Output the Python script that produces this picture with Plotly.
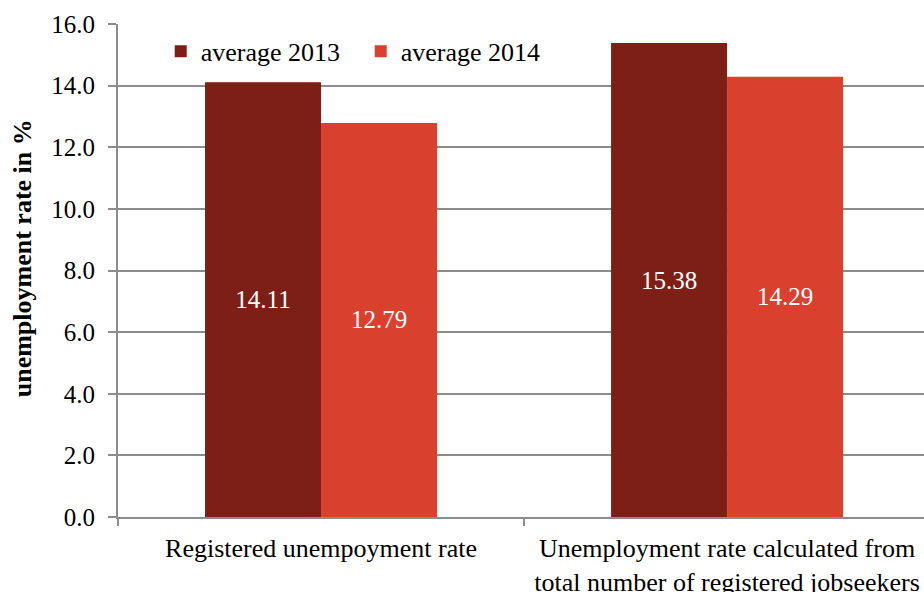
import plotly.graph_objects as go

categories = ["Registered unempoyment rate",
              "Unemployment rate calculated from<br>total number of registered jobseekers"]
series_names = ["average 2013", "average 2014"]
values_2013 = [14.11, 15.38]
values_2014 = [12.79, 14.29]
y_ticks = [0, 2, 4, 6, 8, 10, 12, 14, 16]
y_title = "unemployment rate in %"

colors = ["#7E1F17", "#D9402D"]
xpos = list(range(len(categories)))
font_family = "Times New Roman, Liberation Serif, serif"

fig = go.Figure()
for name, vals, col in zip(series_names, [values_2013, values_2014], colors):
    fig.add_trace(go.Bar(
        x=xpos, y=vals, name=name,
        marker=dict(color=col, line=dict(width=0)),
        text=[f"{v:.2f}" for v in vals],
        textposition="inside", insidetextanchor="middle",
        textfont=dict(color="white", size=25, family=font_family),
        textangle=0,
    ))

# invisible trace on secondary x axis for category boundary ticks
fig.add_trace(go.Scatter(x=[-0.5, 1.5], y=[0, 0], xaxis="x2", mode="lines",
                         line=dict(width=0), showlegend=False, hoverinfo="skip"))

fig.update_layout(
    width=924, height=592,
    margin=dict(l=118, r=0, t=24, b=75),
    paper_bgcolor="white", plot_bgcolor="white",
    barmode="group", bargap=0.4286, bargroupgap=0,
    font=dict(family=font_family, color="black", size=25),
    legend=dict(orientation="h", x=0.053, y=0.992, xanchor="left", yanchor="top",
                font=dict(size=26, family=font_family), bgcolor="rgba(0,0,0,0)",
                itemwidth=30, tracegroupgap=0, entrywidthmode="pixels", entrywidth=155),
    xaxis=dict(range=[-0.5, 1.485], tickvals=xpos, ticktext=categories,
               showgrid=False, showline=True, linecolor="#8C8C8C", linewidth=2,
               ticks="", tickfont=dict(size=26, family=font_family), automargin=False,
               zeroline=False, ticklabelstandoff=7),
    xaxis2=dict(overlaying="x", range=[-0.5, 1.485], tickvals=[-0.5, 0.5, 1.5],
                ticks="outside", ticklen=8, tickwidth=2, tickcolor="#8C8C8C",
                showticklabels=False, showgrid=False, showline=False, side="bottom",
                zeroline=False, anchor="y"),
    yaxis=dict(range=[0, 16], tickvals=y_ticks, tickformat=".1f",
               showgrid=True, gridcolor="#8C8C8C", gridwidth=2,
               showline=True, linecolor="#8C8C8C", linewidth=2,
               ticks="outside", ticklen=8, tickwidth=2, tickcolor="#8C8C8C",
               tickfont=dict(size=25, family=font_family), zeroline=False,
               ticklabelstandoff=8, automargin=False),
    annotations=[dict(text=f"<b>{y_title}</b>", textangle=-90, showarrow=False,
                      xref="paper", yref="paper", x=-0.119, y=0.525,
                      xanchor="center", yanchor="middle",
                      font=dict(size=26, family=font_family, color="black"))],
)

fig.write_html("out.html")
